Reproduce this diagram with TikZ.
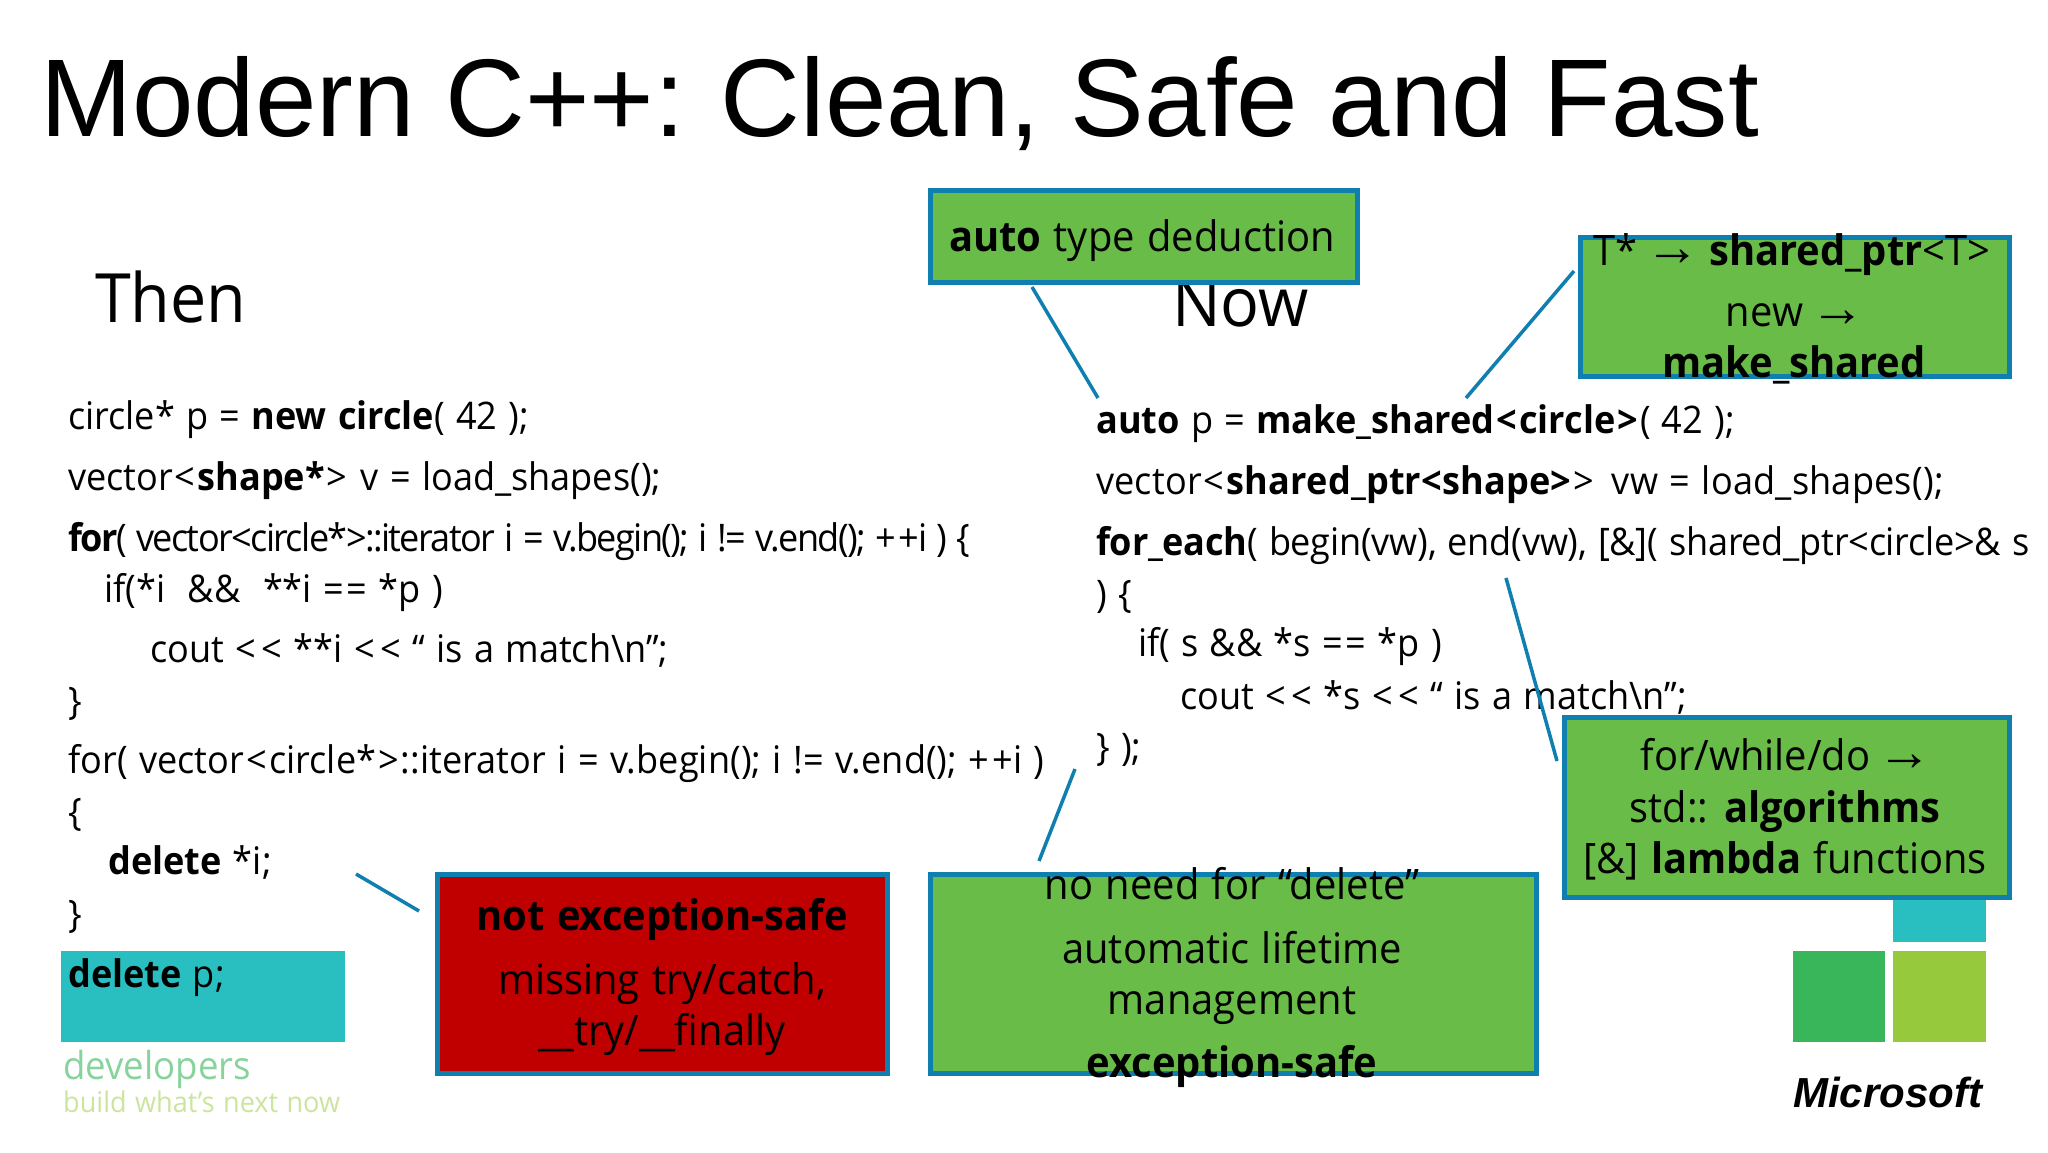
\documentclass[tikz,border=0pt]{standalone}
\usepackage{fontspec}
\setmainfont{Open Sans}[FakeStretch=0.95,WordSpace=1.2]
\newfontfamily\titleFont{Liberation Sans}
\newfontfamily\arrowFont{Liberation Sans}[Scale=1.3]
\definecolor{boxGreen}{HTML}{69BC47}
\definecolor{boxRed}{HTML}{C00000}
\definecolor{boxBlue}{HTML}{0F7FB0}
\definecolor{logoTeal}{HTML}{29BFC1}
\definecolor{logoGreen}{HTML}{39B55A}
\definecolor{logoLime}{HTML}{97C93D}
\def \codeSize {\fontsize{38}{40}\selectfont}
\def \boxSize {\fontsize{42}{44}\selectfont}
\def \headSize {\fontsize{68}{72}\selectfont}
\def \shiftLeft {<\kern6pt<}
\def \doubleEq {=\kern3pt=}
\def \doublePlus {+\kern3pt+}
\def \openAngle {\kern2pt<\kern2pt}
\def \closeAngle {\kern2pt>\kern2pt}
\def \arrowGlyph {{\kern-5pt\arrowFont →\kern-3pt}}
\tikzset{
   code/.style={anchor=base west, inner sep=0pt, font=\codeSize},
   heading/.style={anchor=base west, inner sep=0pt, font=\headSize},
   boxtext/.style={anchor=base, inner sep=0pt, font=\boxSize},
   callout/.style={draw=boxBlue, line width=4.5pt, fill=boxGreen, anchor=north west, inner sep=0pt},
   square/.style={anchor=north west, inner sep=0pt},
   leader/.style={draw=boxBlue, line width=3.5pt}
}
\begin{document}
\begin{tikzpicture}[x=1pt, y=-1pt]
         \useasboundingbox (0, 0) rectangle (2048, 1152);
         \node[anchor=base west, inner sep=0pt, font=\titleFont\fontsize{110.5}{120}\selectfont] (title) at (40, 136) {Modern C++:\kern-5pt{} Clean, Safe and Fast};
         \node[heading] (then) at (95, 322) {Then};
         \node[heading] (now) at (1172, 326) {Now};

         \node[square, fill=logoTeal, minimum width=284pt, minimum height=91pt] (tealLeft) at (61, 951) {};
         \node[square, fill=logoTeal, minimum width=93pt, minimum height=45pt] (tealRight) at (1893, 897) {};
         \node[square, fill=logoGreen, minimum width=92pt, minimum height=91pt] (greenSquare) at (1793, 951) {};
         \node[square, fill=logoLime, minimum width=93pt, minimum height=91pt] (limeSquare) at (1893, 951) {};
         \node[anchor=base west, inner sep=0pt, text=logoGreen!60, font=\fontsize{38.5}{44}\selectfont] (developers) at (63, 1079) {developers};
         \node[anchor=base west, inner sep=0pt, text=logoLime!50, font=\fontsize{28.5}{32}\selectfont] (buildNext) at (63, 1112) {build what's next now};
         \node[anchor=base west, inner sep=0pt, font=\titleFont\bfseries\itshape\fontsize{42}{46}\selectfont] (microsoft) at (1793, 1107) {Microsoft};

         \node[code] (leftOne) at (68, 429) {circle* p = \textbf{new circle}( 42 );};
         \node[code] (leftTwo) at (68, 490) {vector\openAngle\textbf{shape*}\closeAngle{} v = load\_shapes();};
         \node[code] (leftThree) at (68, 551) {\addfontfeature{LetterSpace=-4.2}\textbf{for}( vector<circle*>::iterator i = v.begin(); i != v.end(); \doublePlus i ) \{};
         \node[code] (leftFour) at (104, 602) {if(*i \ \&\& \ **i \doubleEq{} *p )};
         \node[code] (leftFive) at (150, 662) {cout \shiftLeft{} **i \shiftLeft{} “ is a match\textbackslash n”;};
         \node[code] (leftSix) at (68, 714) {\}};
         \node[code] (leftSeven) at (68, 773) {\addfontfeature{LetterSpace=0.2}for( vector\openAngle circle*\closeAngle::iterator i = v.begin(); i != v.end(); \doublePlus i )};
         \node[code] (leftEight) at (68, 825) {\{};
         \node[code] (leftNine) at (108, 874) {\textbf{delete} *i;};
         \node[code] (leftTen) at (68, 927) {\}};
         \node[code] (leftEleven) at (68, 987) {\textbf{delete} p;};

         \node[code] (rightOne) at (1096, 433) {\textbf{auto} p = \textbf{make\_shared\openAngle circle\closeAngle}( 42 );};
         \node[code] (rightTwo) at (1096, 494) {\addfontfeature{LetterSpace=0.5}vector\openAngle\textbf{shared\_ptr<shape>}\closeAngle\kern4pt{} vw = load\_shapes();};
         \node[code] (rightThree) at (1096, 555) {\addfontfeature{LetterSpace=-0.6}\textbf{for\_each}( begin(vw), end(vw), [\&]( shared\_ptr<circle>\& s};
         \node[code] (rightFour) at (1096, 607) {) \{};
         \node[code] (rightFive) at (1138, 656) {if( s \&\& *s \doubleEq{} *p )};
         \node[code] (rightSix) at (1180, 709) {cout \shiftLeft{} *s \shiftLeft{} “ is a match\textbackslash n”;};
         \node[code] (rightSeven) at (1096, 760) {\} );};

         \node[callout, minimum width=427pt, minimum height=92pt] (autoBox) at (928, 188) {};
         \node[callout, minimum width=429pt, minimum height=139pt] (sharedBox) at (1578, 235) {};
         \node[callout, minimum width=445pt, minimum height=180pt] (algoBox) at (1562, 715) {};
         \node[callout, minimum width=606pt, minimum height=199pt] (lifetimeBox) at (928, 872) {};
         \node[callout, fill=boxRed, minimum width=450pt, minimum height=199pt] (unsafeBox) at (435, 872) {};

         \node[boxtext] (autoText) at (1142, 251) {\textbf{auto} type deduction};
         \node[boxtext] (sharedOne) at (1792, 265) {T* \arrowGlyph{} \textbf{shared\_ptr}<T>};
         \node[boxtext] (sharedTwo) at (1794, 326) {new \arrowGlyph};
         \node[boxtext] (sharedThree) at (1794, 377) {\textbf{make\_shared}};
         \node[boxtext] (algoOne) at (1785, 770) {for/while/do \arrowGlyph};
         \node[boxtext] (algoTwo) at (1785, 822) {std:: \textbf{algorithms}};
         \node[boxtext] (algoThree) at (1785, 873) {[\&] \textbf{lambda} functions};
         \node[boxtext] (lifetimeOne) at (1232, 899) {no need for “delete”};
         \node[boxtext] (lifetimeTwo) at (1232, 963) {automatic lifetime};
         \node[boxtext] (lifetimeThree) at (1232, 1014) {management};
         \node[boxtext] (lifetimeFour) at (1232, 1077) {\textbf{exception-safe}};
         \node[boxtext] (unsafeOne) at (662, 930) {\textbf{not exception-safe}};
         \node[boxtext] (unsafeTwo) at (662, 994) {missing try/catch,};
         \node[boxtext] (unsafeThree) at (662, 1045) {\_\_try/\_\_finally};

         \coordinate (autoFrom) at (1032, 287);
         \coordinate (autoTo) at (1098, 398);
         \coordinate (sharedFrom) at (1574, 271);
         \coordinate (sharedTo) at (1466, 398);
         \coordinate (algoFrom) at (1557, 761);
         \coordinate (algoTo) at (1506, 578);
         \coordinate (lifetimeFrom) at (1075, 769);
         \coordinate (lifetimeTo) at (1039, 861);
         \coordinate (unsafeFrom) at (419, 911);
         \coordinate (unsafeTo) at (356, 874);
         \draw[leader] (autoFrom) -- (autoTo);
         \draw[leader] (sharedFrom) -- (sharedTo);
         \draw[leader] (algoFrom) -- (algoTo);
         \draw[leader] (lifetimeFrom) -- (lifetimeTo);
         \draw[leader] (unsafeFrom) -- (unsafeTo);
      \end{tikzpicture}
\end{document}
